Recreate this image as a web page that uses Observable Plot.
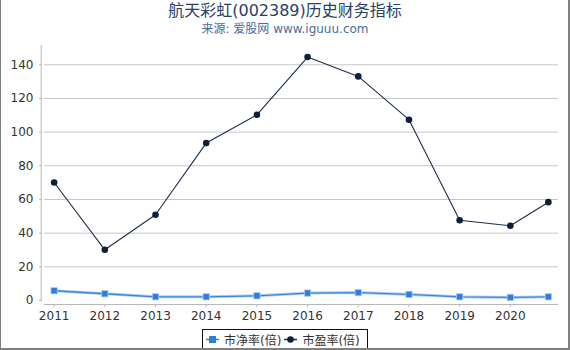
<!DOCTYPE html>
<html>
<head>
<meta charset="utf-8">
<script src="https://cdn.jsdelivr.net/npm/d3@7"></script>
<script src="https://cdn.jsdelivr.net/npm/@observablehq/plot@0.6"></script>
<style>
  html, body { margin: 0; padding: 0; background: #fff; }
  #wrap { position: relative; width: 570px; height: 350px; overflow: hidden;
          font-family: "DejaVu Sans", "Noto Sans CJK SC", sans-serif; }
  #chart { position: absolute; left: 0; top: 0; }
  #title { position: absolute; left: 0; width: 570px; top: 1px; text-align: center;
           font-size: 16px; color: #2a4262; line-height: 20px; }
  #subtitle { position: absolute; left: 0; width: 570px; top: 21px; text-align: center;
              font-size: 12px; color: #4d6c98; line-height: 16px; }
  #legend { position: absolute; left: 202px; top: 329px; width: 164px; height: 19px;
            border: 1px solid #111; background: #fff; font-size: 12px; color: #333;
            display: flex; align-items: center; white-space: nowrap; }
  #legend .item { display: flex; align-items: center; margin-left: 3px; }
  #legend svg { margin-right: 5px; }
  #border { position: absolute; left: 0; top: 0; width: 570px; height: 350px; box-sizing: border-box;
            border-left: 1px solid #808080; border-right: 2px solid #808080; border-bottom: 2px solid #808080;
            pointer-events: none; }
</style>
</head>
<body>
<div id="wrap">
  <div id="chart"></div>
  <div id="title">航天彩虹(002389)历史财务指标</div>
  <div id="subtitle">来源: 爱股网 www.iguuu.com</div>
  <div id="legend"></div>
  <div id="border"></div>
</div>
<script>
// Data
const periods = [2011, 2012, 2013, 2014, 2015, 2016, 2017, 2018, 2019, 2020, 2020.75];
const pb = [5.8, 4.0, 2.2, 2.2, 2.8, 4.4, 4.7, 3.6, 2.2, 1.8, 2.2];
const pe = [70.1, 30.1, 50.9, 93.5, 110.3, 144.6, 133.1, 107.4, 47.7, 44.4, 58.4];
const xTicks = [2011, 2012, 2013, 2014, 2015, 2016, 2017, 2018, 2019, 2020];
const yTicks = [0, 20, 40, 60, 80, 100, 120, 140];
const seriesNames = ["市净率(倍)", "市盈率(倍)"];

const pbColor = "#2f7dd8", pbLine = "#3b86dc", pbHalo = "#b5d1f2";
const peColor = "#0f1f3a", peLine = "#1e2e4a";

const rows = periods.map((p, i) => ({p, pb: pb[i], pe: pe[i]}));
const xDomain = [2010.81, 2020.95];
const yDomain = [-2.38, 151.46];

const chart = Plot.plot({
  width: 570,
  height: 350,
  marginLeft: 44,
  marginRight: 12,
  marginTop: 45,
  marginBottom: 46,
  style: {fontFamily: '"DejaVu Sans", "Noto Sans CJK SC", sans-serif', fontSize: "12px", background: "transparent"},
  x: {domain: xDomain},
  y: {domain: yDomain},
  marks: [
    Plot.ruleY(yTicks.filter(d => d > 0), {stroke: "#c6c6c6", strokeWidth: 1}),
    Plot.ruleX([xDomain[0]], {y1: 0, y2: yDomain[1], dx: -3.3, stroke: "#b8b8b8"}),
    Plot.axisY({ticks: yTicks, tickSize: 3, dx: -2, tickPadding: 6, stroke: "#b8b8b8", color: "#333", fontSize: 12, label: null}),
    Plot.axisX({ticks: xTicks, tickFormat: d3.format("d"), tickSize: 3, tickPadding: 4, stroke: "#b8b8b8", color: "#333", fontSize: 12, label: null}),
    Plot.ruleY([yDomain[0]], {stroke: "#b8b8b8"}),
    Plot.line(rows, {x: "p", y: "pb", stroke: pbHalo, strokeWidth: 3}),
    Plot.line(rows, {x: "p", y: "pb", stroke: pbLine, strokeWidth: 1.3}),
    Plot.dot(rows, {x: "p", y: "pb", symbol: "square", r: 3.6, fill: pbColor, stroke: pbHalo, strokeWidth: 0.8}),
    Plot.line(rows, {x: "p", y: "pe", stroke: peLine, strokeWidth: 1.1}),
    Plot.dot(rows, {x: "p", y: "pe", r: 3.3, fill: peColor})
  ]
});
document.getElementById("chart").appendChild(chart);

// Legend
const legend = document.getElementById("legend");
const legendItems = [
  {name: seriesNames[0], line: pbLine, fill: pbColor, shape: "square"},
  {name: seriesNames[1], line: peLine, fill: peColor, shape: "circle"}
];
legendItems.forEach(it => {
  const div = document.createElement("div");
  div.className = "item";
  const marker = it.shape === "square"
    ? `<rect x="3" y="3" width="7" height="7" fill="${it.fill}"/>`
    : `<circle cx="6.5" cy="6.5" r="3.3" fill="${it.fill}"/>`;
  div.innerHTML = `<svg width="13" height="13"><line x1="0" x2="13" y1="6.5" y2="6.5" stroke="${it.line}" stroke-width="1.5"/>${marker}</svg><span>${it.name}</span>`;
  legend.appendChild(div);
});
</script>
</body>
</html>
